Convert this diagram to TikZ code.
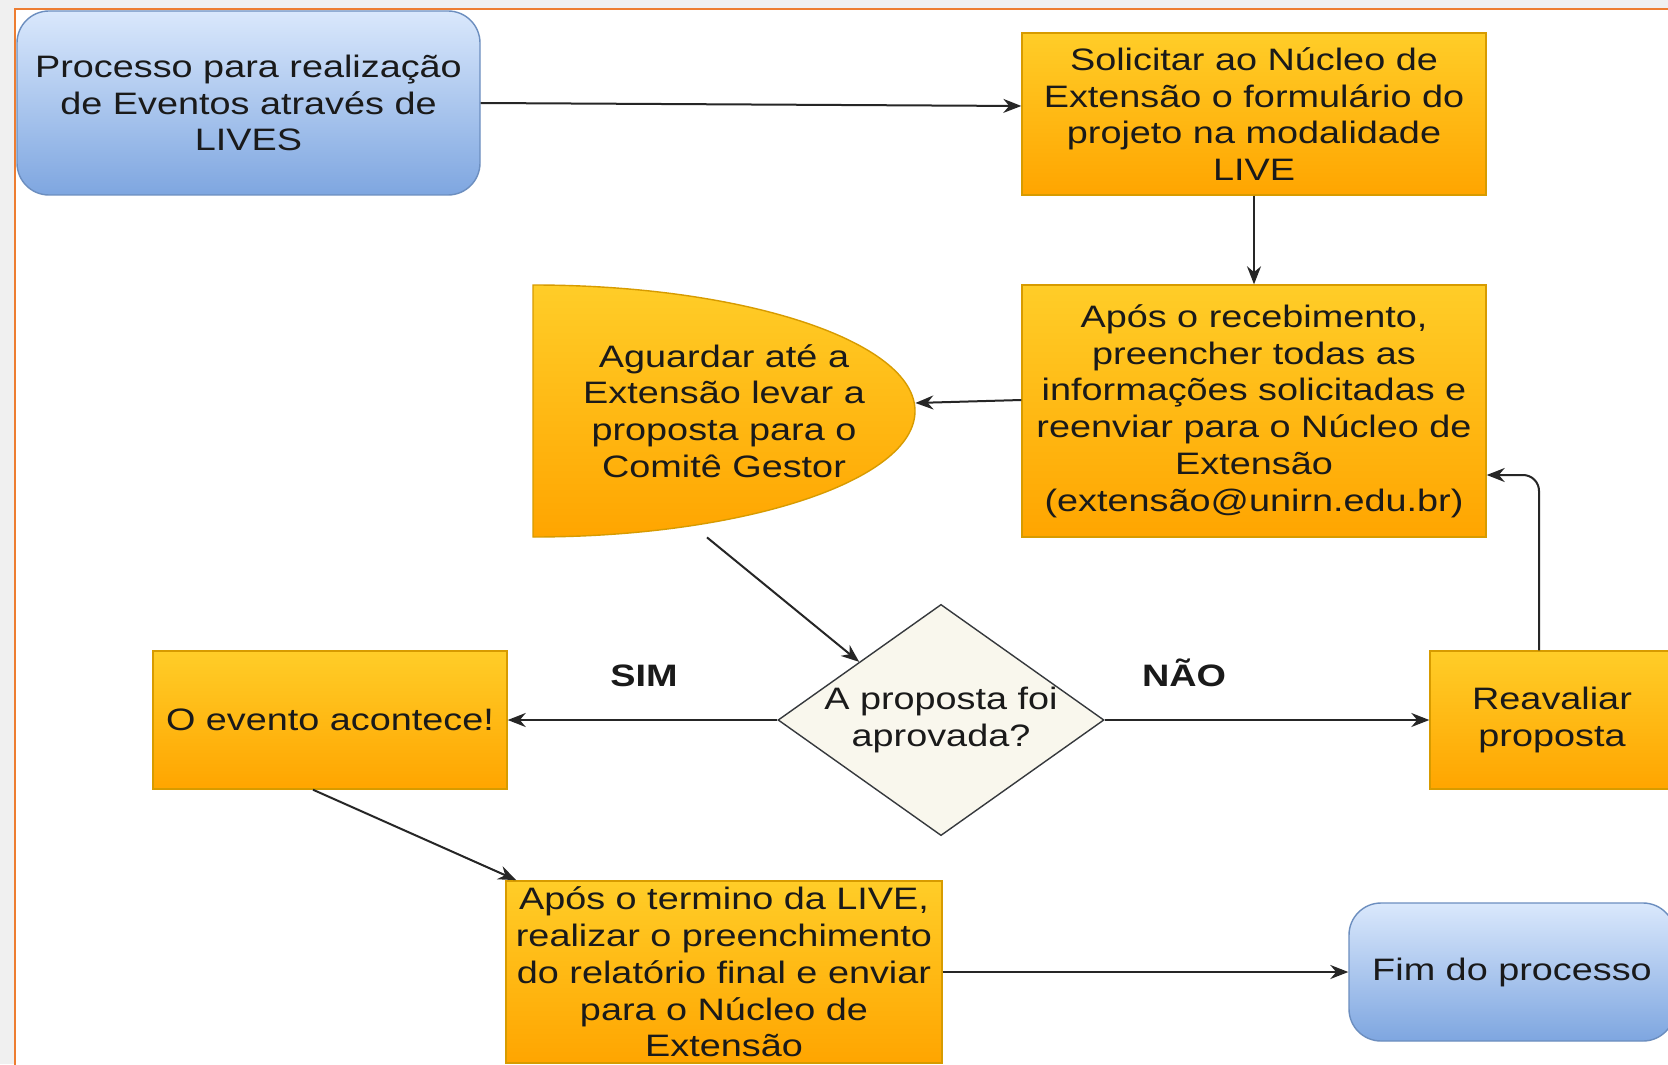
\documentclass[tikz,border=0pt]{standalone}
\usepackage{fontspec}
\setmainfont{Liberation Sans}[FakeStretch=1.22]
\usepackage{tikz}
\usetikzlibrary{positioning,shapes,arrows,arrows.meta}

\definecolor{frameorange}{HTML}{ED7D31}
\definecolor{pagegray}{HTML}{F0F0F0}
\definecolor{blueTop}{HTML}{DAE8FC}
\definecolor{blueBot}{HTML}{7EA6E0}
\definecolor{blueLine}{HTML}{6C8EBF}
\definecolor{yellowTop}{HTML}{FFCD28}
\definecolor{yellowBot}{HTML}{FFA500}
\definecolor{yellowLine}{HTML}{D79B00}
\definecolor{decFill}{HTML}{F9F7ED}
\definecolor{decLine}{HTML}{36393D}
\definecolor{txt}{HTML}{1A1A1A}

\tikzset{
	terminal/.style={rectangle, rounded corners=16pt, draw=blueLine, line width=0.7pt, top color=blueTop, bottom color=blueBot, align=center, text=txt},
	procbox/.style={rectangle, draw=yellowLine, line width=0.7pt, top color=yellowTop, bottom color=yellowBot, align=center, text=txt, inner sep=3pt},
	decision/.style={diamond, draw=decLine, line width=0.7pt, fill=decFill, shape aspect=1.41, inner sep=0pt, align=center, text=txt},
	branchlabel/.style={text=txt, anchor=base, font=\fontsize{15.5pt}{18.4pt}\selectfont\bfseries},
	flow/.style={-{Stealth[length=9pt,width=7pt]}, line width=1pt, draw=black!85},
}

\begin{document}
\begin{tikzpicture}[x=0.5pt, y=-0.5pt, font=\fontsize{15.5pt}{18.4pt}\selectfont]
		\useasboundingbox (0, 0) rectangle (1668, 1064);
		\clip (0, 0) rectangle (1668, 1064);
		\fill[pagegray] (0, 0) rectangle (1668, 1064);
		\filldraw[fill=white, draw=frameorange, line width=1pt] (15, 9) rectangle (1720, 1120);
		\node[terminal, minimum width=231.5pt, minimum height=92pt] (Inicio) at (248.5, 103) {Processo para realização\\de Eventos através de\\LIVES};
		\node[procbox, minimum width=232pt, minimum height=81pt] (Solicitar) at (1254, 114) {Solicitar ao Núcleo de\\Extensão o formulário do\\projeto na modalidade\\LIVE};
		\node[procbox, minimum width=232pt, minimum height=126pt] (Apos) at (1254, 411) {Após o recebimento,\\preencher todas as\\informações solicitadas e\\reenviar para o Núcleo de\\Extensão\\(extensão@unirn.edu.br)};
		\draw[draw=yellowLine, line width=0.7pt, top color=yellowTop, bottom color=yellowBot] (533, 285) arc[start angle=90, end angle=-90, x radius=191pt, y radius=63pt] -- cycle;
		\node[text=txt, align=center, minimum width=191pt, minimum height=126pt] (Aguardar) at (724, 411) {Aguardar até a\\Extensão levar a\\proposta para o\\Comitê Gestor};
		\node[decision, minimum width=162pt, minimum height=115pt] (Decisao) at (941, 720) {A proposta foi\\aprovada?};
		\node[procbox, minimum width=177pt, minimum height=69pt] (Evento) at (330, 720) {O evento acontece!};
		\node[procbox, minimum width=122pt, minimum height=69pt] (Reavaliar) at (1552, 720) {Reavaliar\\proposta};
		\node[procbox, minimum width=218pt, minimum height=91pt] (Termino) at (724, 972) {Após o termino da LIVE,\\realizar o preenchimento\\do relatório final e enviar\\para o Núcleo de\\Extensão};
		\node[terminal, minimum width=163pt, minimum height=69pt] (Fim) at (1512, 972) {Fim do processo};
		\node[branchlabel] (Sim) at (644, 686) {SIM};
		\node[branchlabel] (Nao) at (1184, 686) {NÃO};
		\draw[flow] (Inicio.east) -- ([yshift=4pt]Solicitar.west);
		\draw[flow] (Solicitar) -- (Apos);
		\draw[flow] ([yshift=5.5pt]Apos.west) -- ([yshift=4pt]Aguardar.east);
		\draw[flow] ([xshift=-8.5pt]Aguardar.south) -- (Decisao.north west);
		\draw[flow] (Decisao) -- (Evento);
		\draw[flow] (Decisao) -- (Reavaliar);
		\draw[flow, rounded corners=8pt] ([xshift=-6.5pt]Reavaliar.north) |- ([yshift=-32pt]Apos.east);
		\draw[flow] ([xshift=-8.5pt]Evento.south) -- ([xshift=5.5pt]Termino.north west);
		\draw[flow] (Termino) -- (Fim);
	\end{tikzpicture}
\end{document}
